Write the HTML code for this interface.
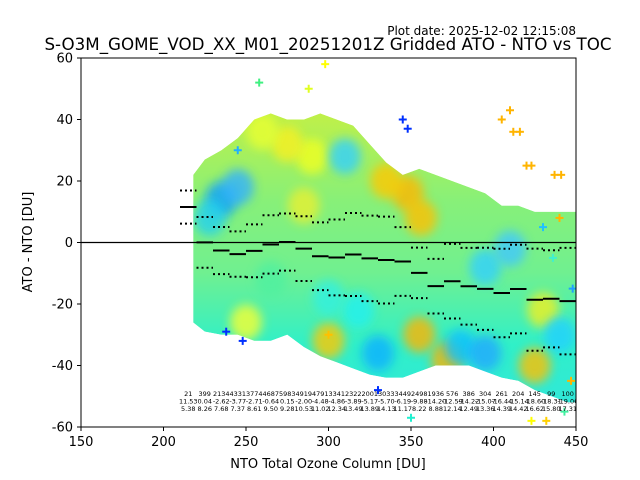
<!DOCTYPE html>
<html><head><meta charset="utf-8">
<style>
html,body{margin:0;padding:0;background:#fff;}
svg{display:block;font-family:"DejaVu Sans","Liberation Sans",sans-serif;}
</style></head>
<body>
<svg id="chart" width="640" height="480" viewBox="0 0 640 480">
<defs>
<linearGradient id="cloudGrad" x1="0" y1="0" x2="0" y2="1">
<stop offset="0" stop-color="#c0f048"/>
<stop offset="0.3" stop-color="#88f078"/>
<stop offset="0.55" stop-color="#70f090"/>
<stop offset="0.8" stop-color="#30f0c8"/>
<stop offset="1" stop-color="#30e8d8"/>
</linearGradient>
<filter id="soft" x="-50%" y="-50%" width="200%" height="200%"><feGaussianBlur stdDeviation="5"/></filter>
<clipPath id="plotClip"><rect x="81" y="58" width="495" height="369"/></clipPath>
<clipPath id="cloudClip"><path id="cloudClipPath" d=""/></clipPath>
</defs>
<text x="576" y="35" font-size="12" text-anchor="end">Plot date: 2025-12-02 12:15:08</text>
<text x="328" y="50" font-size="16.7" text-anchor="middle">S-O3M_GOME_VOD_XX_M01_20251201Z Gridded ATO - NTO vs TOC</text>
<g clip-path="url(#plotClip)">
<g id="plot"></g>
</g>
<g id="axes"></g>
<text x="328" y="468" font-size="13" text-anchor="middle">NTO Total Ozone Column [DU]</text>
<text transform="translate(32,242) rotate(-90)" font-size="13" text-anchor="middle">ATO - NTO [DU]</text>
</svg>
<script>
const binCenters=[215,225,235,245,255,265,275,285,295,305,315,325,335,345,355,365,375,385,395,405,415,425,435,445];
const counts=[21,399,2134,4331,3774,4687,5983,4919,4791,3341,2322,2001,3033,3449,2498,1936,576,386,304,261,204,145,99,100];
const means=[11.53,0.04,-2.62,-3.77,-2.71,-0.64,0.15,-2.00,-4.48,-4.86,-3.89,-5.17,-5.70,-6.19,-9.88,-14.20,-12.59,-14.22,-15.07,-16.44,-15.14,-18.60,-18.31,-19.06];
const stds=[5.38,8.26,7.68,7.37,8.61,9.50,9.28,10.53,11.02,12.34,13.49,13.89,14.13,11.17,8.22,8.88,12.14,12.49,13.36,14.39,14.42,16.62,15.80,17.31];
const cloudTop=[22,27,30,34,40,42,40,40,42,40,38,32,26,22,24,22,20,18,16,12,12,10,10,10];
const cloudBottom=[-26,-29,-30,-30,-32,-32,-30,-34,-37,-39,-41,-43,-44,-44,-42,-40,-40,-40,-42,-44,-45,-48,-50,-52];
const patchX=[348,356,335,290,275,260,372,380,395,430,440,235,228,245,300,250,310,318,330,395,410,425,300,285,355,265];
const patchY=[16,8,20,28,32,36,-38,-34,-36,-22,-30,14,8,18,-32,-26,28,-22,-36,-8,-2,-40,-18,12,-30,-12];
const patchColor=["#ffb800","#ffc000","#ffc800","#f0ff20","#f8f020","#e8ff30","#ffb400","#10c0ff","#20a8ff","#f0f020","#20d0ff","#10a0ff","#20d0f0","#30b0ff","#ffc800","#f8ff30","#30d0ff","#20f0f0","#10b0ff","#30d0ff","#40c8ff","#ffc000","#30f0e0","#e8f030","#ffb400","#50f0a0"];
const outX=[298,258,288,405,410,412,416,420,423,437,441,345,348,423,432,350,330,248,238,245,300,443,447,430,440,436,448];
const outY=[58,52,50,40,43,36,36,25,25,22,22,40,37,-58,-58,-57,-48,-32,-29,30,-30,-55,-45,5,8,-5,-15];
const outColor=["#ffff00","#40f080","#e0ff20","#ffb400","#ffb400","#ffb400","#ffb400","#ffb400","#ffb400","#ffb400","#ffb400","#0030ff","#0030ff","#ffff00","#ffd000","#20f0d0","#0030ff","#0030ff","#0030ff","#20b0ff","#ffc000","#40f0a0","#ffb400","#20c0ff","#ffb400","#40f0d0","#20a0ff"];
const xTicks=[150,200,250,300,350,400,450];
const yTicks=[-60,-40,-20,0,20,40,60];

const NS="http://www.w3.org/2000/svg";
const X=v=>81+(v-150)*495/300;
const Y=v=>58+(60-v)*369/120;
const plot=document.getElementById('plot');
const axes=document.getElementById('axes');
function mk(tag,attrs,parent){const e=document.createElementNS(NS,tag);for(const k in attrs)e.setAttribute(k,attrs[k]);parent.appendChild(e);return e;}

// smooth cloud envelope
const upperPts=binCenters.map((c,i)=>[X(Math.max(c,218)),Y(cloudTop[i])]);
const lowerPts=binCenters.map((c,i)=>[X(Math.max(c,218)),Y(cloudBottom[i])]).reverse();
upperPts.push([X(452),Y(cloudTop[cloudTop.length-1])]);
lowerPts.unshift([X(452),Y(cloudBottom[cloudBottom.length-1])]);
const cloudD='M'+upperPts.map(p=>p.join(',')).join(' L')+' L'+lowerPts.map(p=>p.join(',')).join(' L')+' Z';
document.getElementById('cloudClipPath').setAttribute('d',cloudD);
const cloudG=mk('g',{'clip-path':'url(#cloudClip)'},plot);


mk('path',{d:cloudD,fill:'url(#cloudGrad)'},cloudG);
patchX.forEach((px,i)=>{
 const e=mk('ellipse',{cx:X(px),cy:Y(patchY[i]),rx:16,ry:18,fill:patchColor[i],opacity:0.8,filter:'url(#soft)'},cloudG);
 
 
});
// outlier crosses
outX.forEach((ox,i)=>{
 const g=mk('g',{stroke:outColor[i],'stroke-width':2},plot);
 
 
 const cx=X(ox),cy=Y(outY[i]);
 mk('line',{x1:cx-4,y1:cy,x2:cx+4,y2:cy},g);
 mk('line',{x1:cx,y1:cy-4,x2:cx,y2:cy+4},g);
});
// zero line
const z=mk('line',{x1:81,x2:576,y1:Y(0),y2:Y(0),stroke:'#000','stroke-width':1.2},plot);


// mean and std lines
binCenters.forEach((c,i)=>{
 const x1=X(c-5),x2=X(c+5);
 const m=mk('line',{x1:x1,x2:x2,y1:Y(means[i]),y2:Y(means[i]),stroke:'#000','stroke-width':2},plot);
 
 
 [means[i]+stds[i],means[i]-stds[i]].forEach(v=>{
  const s=mk('line',{x1:x1,x2:x2,y1:Y(v),y2:Y(v),stroke:'#000','stroke-width':2,'stroke-dasharray':'2,3'},plot);
  
  
 });
 const rows=[String(counts[i]),means[i].toFixed(2),stds[i].toFixed(2)];
 rows.forEach((t,r)=>{
  const tx=mk('text',{x:X(c),y:396+r*7.5,'font-size':6.5,'text-anchor':'middle'},plot);
  tx.textContent=t;
  
  
 });
});
// frame
const fr=mk('rect',{x:81,y:58,width:495,height:369,fill:'none',stroke:'#000','stroke-width':1},axes);


xTicks.forEach(v=>{
 mk('line',{x1:X(v),x2:X(v),y1:427,y2:431,stroke:'#000'},axes);
 const t=mk('text',{x:X(v),y:446,'font-size':13,'text-anchor':'middle'},axes);
 t.textContent=v;
 
 
});
yTicks.forEach(v=>{
 mk('line',{x1:77,x2:81,y1:Y(v),y2:Y(v),stroke:'#000'},axes);
 const t=mk('text',{x:73,y:Y(v)+4.5,'font-size':13,'text-anchor':'end'},axes);
 t.textContent=v;
 
 
});
</script>
</body></html>
